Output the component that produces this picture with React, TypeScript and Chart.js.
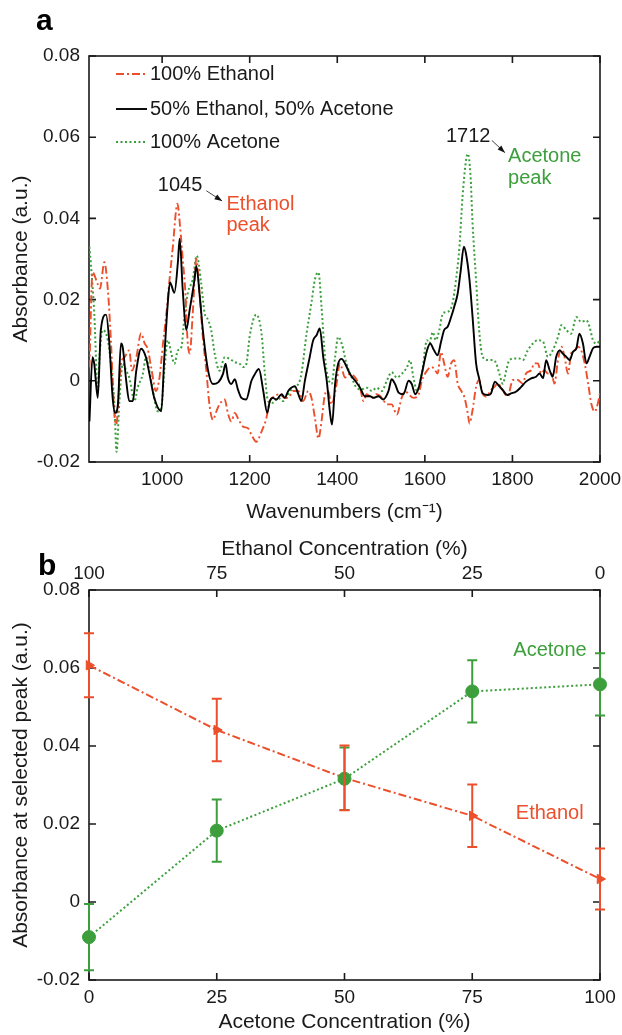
import { useEffect, useRef } from 'react';
import { Chart, registerables } from 'chart.js';

Chart.register(...registerables);

const RED = '#ec4f2b';
const GREEN = '#3c9f3c';
const INK = '#1a1a1a';
const FONT = "'Liberation Sans', Arial, Helvetica, sans-serif";

// ---------- panel a: FTIR spectra ----------
const ethanolWn = [834, 841, 853, 858, 868, 876, 883, 891, 895, 906, 914, 925, 931, 941, 952, 960, 967, 975, 986, 994, 1002, 1009, 1017, 1024, 1035, 1041, 1047, 1053, 1058, 1063, 1070, 1078, 1086, 1093, 1101, 1108, 1116, 1124, 1131, 1143, 1150, 1158, 1166, 1173, 1185, 1196, 1204, 1215, 1227, 1238, 1246, 1257, 1269, 1280, 1288, 1299, 1311, 1322, 1334, 1341, 1349, 1357, 1364, 1372, 1379, 1387, 1397, 1406, 1418, 1429, 1441, 1452, 1460, 1467, 1479, 1490, 1502, 1513, 1524, 1536, 1547, 1555, 1563, 1574, 1586, 1593, 1605, 1614, 1621, 1629, 1637, 1644, 1652, 1660, 1667, 1675, 1682, 1690, 1698, 1702, 1709, 1717, 1724, 1732, 1740, 1751, 1759, 1766, 1774, 1782, 1789, 1801, 1812, 1824, 1831, 1843, 1850, 1858, 1866, 1873, 1881, 1889, 1896, 1904, 1912, 1919, 1927, 1934, 1942, 1950, 1957, 1965, 1973, 1980, 1988, 1995, 2000];
const ethanolAbs = [0.0033, 0.0267, 0.0238, 0.0227, 0.0292, 0.0225, 0.0100, -0.0083, -0.0108, 0.0042, 0.0058, 0.0075, 0.0025, 0.0058, 0.0117, 0.0092, 0.0079, 0.0033, -0.0025, 0.0008, 0.0092, 0.0158, 0.0250, 0.0325, 0.0436, 0.0380, 0.0300, 0.0220, 0.0100, 0.0067, 0.0167, 0.0300, 0.0208, 0.0108, 0.0025, -0.0058, -0.0096, -0.0075, -0.0058, -0.0046, -0.0079, -0.0100, -0.0079, -0.0092, -0.0113, -0.0117, -0.0133, -0.0150, -0.0125, -0.0092, -0.0050, -0.0038, -0.0033, -0.0042, -0.0042, -0.0025, -0.0025, -0.0050, -0.0025, -0.0042, -0.0092, -0.0142, -0.0100, -0.0033, -0.0025, -0.0058, -0.0017, 0.0042, 0.0008, 0.0017, 0.0008, -0.0017, -0.0050, -0.0033, -0.0042, -0.0033, -0.0042, -0.0058, -0.0058, -0.0083, -0.0042, -0.0025, -0.0033, -0.0042, -0.0033, 0.0000, 0.0025, 0.0034, 0.0030, 0.0018, 0.0071, 0.0043, 0.0010, 0.0043, 0.0051, -0.0007, -0.0023, -0.0039, -0.0080, -0.0105, -0.0072, -0.0015, 0.0002, -0.0031, -0.0039, -0.0023, -0.0015, -0.0007, -0.0015, -0.0031, -0.0039, 0.0002, 0.0002, -0.0007, 0.0018, 0.0026, 0.0043, 0.0043, 0.0018, 0.0026, 0.0018, 0.0018, -0.0007, 0.0051, 0.0084, 0.0059, 0.0018, 0.0067, 0.0075, 0.0084, 0.0075, 0.0043, -0.0007, -0.0056, -0.0076, -0.0056, -0.0030];

const mixtureWn = [834, 841, 845, 853, 860, 872, 879, 887, 893, 899, 906, 910, 918, 925, 933, 941, 952, 963, 971, 982, 998, 1005, 1013, 1018, 1028, 1036, 1040, 1047, 1055, 1063, 1074, 1078, 1086, 1093, 1105, 1116, 1128, 1139, 1145, 1150, 1158, 1166, 1173, 1181, 1192, 1204, 1212, 1221, 1231, 1240, 1246, 1253, 1261, 1273, 1280, 1288, 1295, 1303, 1311, 1318, 1326, 1337, 1345, 1353, 1360, 1368, 1376, 1383, 1388, 1395, 1402, 1410, 1418, 1429, 1441, 1452, 1463, 1475, 1482, 1494, 1505, 1517, 1524, 1532, 1540, 1551, 1563, 1570, 1578, 1586, 1593, 1605, 1612, 1621, 1629, 1637, 1644, 1652, 1660, 1667, 1675, 1682, 1689, 1694, 1702, 1709, 1717, 1724, 1732, 1744, 1751, 1760, 1768, 1778, 1788, 1797, 1808, 1820, 1831, 1843, 1854, 1862, 1870, 1877, 1885, 1892, 1900, 1908, 1915, 1923, 1931, 1938, 1946, 1953, 1961, 1969, 1976, 1984, 1992, 2000];
const mixtureAbs = [-0.0100, 0.0058, 0.0042, -0.0042, 0.0125, 0.0163, 0.0100, -0.0042, -0.0079, -0.0058, 0.0092, 0.0083, 0.0000, -0.0050, -0.0050, 0.0025, 0.0079, 0.0058, 0.0017, -0.0042, -0.0075, 0.0058, 0.0192, 0.0242, 0.0217, 0.0292, 0.0350, 0.0225, 0.0125, 0.0175, 0.0250, 0.0283, 0.0208, 0.0125, 0.0025, -0.0008, -0.0004, 0.0017, 0.0042, 0.0008, -0.0008, 0.0004, -0.0021, -0.0042, -0.0046, 0.0000, 0.0017, 0.0029, -0.0025, -0.0079, -0.0050, -0.0042, -0.0046, -0.0033, -0.0042, -0.0025, -0.0017, -0.0013, -0.0033, -0.0050, 0.0000, 0.0058, 0.0100, 0.0113, 0.0129, 0.0058, 0.0000, -0.0075, -0.0108, -0.0008, 0.0042, 0.0054, 0.0042, 0.0017, 0.0000, -0.0017, -0.0038, -0.0038, -0.0042, -0.0038, -0.0046, -0.0025, 0.0004, -0.0008, -0.0029, -0.0033, 0.0000, -0.0008, -0.0033, -0.0017, 0.0017, 0.0075, 0.0092, 0.0075, 0.0063, 0.0096, 0.0125, 0.0133, 0.0157, 0.0182, 0.0215, 0.0272, 0.0330, 0.0313, 0.0248, 0.0157, 0.0043, 0.0006, -0.0031, -0.0035, -0.0031, -0.0002, -0.0011, -0.0023, -0.0035, -0.0031, -0.0027, -0.0015, -0.0002, 0.0006, 0.0010, 0.0018, 0.0006, 0.0051, 0.0026, 0.0010, 0.0059, 0.0075, 0.0067, 0.0059, 0.0051, 0.0071, 0.0080, 0.0116, 0.0092, 0.0043, 0.0059, 0.0080, 0.0084, 0.0084];

const acetoneWn = [834, 837, 845, 853, 857, 864, 876, 883, 891, 896, 902, 910, 918, 925, 937, 944, 956, 963, 971, 979, 990, 998, 1005, 1013, 1021, 1028, 1036, 1044, 1051, 1059, 1070, 1079, 1089, 1097, 1105, 1112, 1120, 1131, 1143, 1154, 1166, 1177, 1185, 1192, 1200, 1215, 1227, 1234, 1242, 1253, 1265, 1276, 1288, 1299, 1311, 1318, 1330, 1341, 1349, 1357, 1364, 1372, 1379, 1387, 1395, 1402, 1410, 1421, 1433, 1444, 1456, 1467, 1479, 1490, 1502, 1513, 1524, 1536, 1547, 1559, 1566, 1574, 1582, 1593, 1605, 1610, 1618, 1625, 1633, 1641, 1652, 1663, 1671, 1679, 1686, 1694, 1698, 1704, 1709, 1717, 1724, 1732, 1744, 1755, 1763, 1770, 1778, 1786, 1793, 1805, 1816, 1824, 1835, 1847, 1858, 1870, 1881, 1892, 1904, 1912, 1923, 1934, 1946, 1957, 1969, 1976, 1984, 1992, 2000];
const acetoneAbs = [0.0330, 0.0292, 0.0167, -0.0025, 0.0058, 0.0125, 0.0100, 0.0042, -0.0058, -0.0175, -0.0058, 0.0042, 0.0025, 0.0008, -0.0050, -0.0017, 0.0017, 0.0058, 0.0025, -0.0025, -0.0075, -0.0067, 0.0025, 0.0100, 0.0067, 0.0042, 0.0075, 0.0083, 0.0158, 0.0217, 0.0250, 0.0308, 0.0242, 0.0167, 0.0150, 0.0125, 0.0067, 0.0025, 0.0058, 0.0054, 0.0046, 0.0042, 0.0034, 0.0040, 0.0110, 0.0163, 0.0117, 0.0025, -0.0050, -0.0054, -0.0042, -0.0050, -0.0033, -0.0017, -0.0008, 0.0017, 0.0117, 0.0192, 0.0250, 0.0267, 0.0183, 0.0058, 0.0008, -0.0008, 0.0058, 0.0108, 0.0092, 0.0042, 0.0008, -0.0017, -0.0021, -0.0017, -0.0025, -0.0017, -0.0025, 0.0000, 0.0021, 0.0008, 0.0017, 0.0033, 0.0050, 0.0008, -0.0025, 0.0017, 0.0100, 0.0092, 0.0120, 0.0100, 0.0125, 0.0166, 0.0170, 0.0190, 0.0248, 0.0330, 0.0452, 0.0543, 0.0559, 0.0510, 0.0387, 0.0248, 0.0125, 0.0059, 0.0051, 0.0051, 0.0043, 0.0018, -0.0007, 0.0026, 0.0051, 0.0055, 0.0055, 0.0051, 0.0075, 0.0092, 0.0100, 0.0096, 0.0059, 0.0075, 0.0108, 0.0137, 0.0125, 0.0116, 0.0157, 0.0145, 0.0149, 0.0133, 0.0100, 0.0092, 0.0100];

const wnTicks = [1000, 1200, 1400, 1600, 1800, 2000];
const absTicks = [-0.02, 0, 0.02, 0.04, 0.06, 0.08];
const legendLabelsA = ['100% Ethanol', '50% Ethanol, 50% Acetone', '100% Acetone'];

// ---------- panel b: peak absorbance vs concentration ----------
const acetoneConc = [0, 25, 50, 75, 100];
const ethanolConcTicks = [100, 75, 50, 25, 0];
const acetonePeak = [-0.009, 0.0183, 0.0316, 0.054, 0.0558];
const acetonePeakErr = [0.0085, 0.008, 0.008, 0.008, 0.008];
const ethanolPeak = [0.0607, 0.0441, 0.0318, 0.0221, 0.0059];
const ethanolPeakErr = [0.0082, 0.008, 0.0083, 0.008, 0.0078];

const fmtAbs = (v: number) => (Math.abs(v) < 1e-9 ? '0' : v.toFixed(2));
const toPts = (xs: number[], ys: number[]) => xs.map((x, i) => ({ x, y: ys[i] }));

const boxPlugin = {
  id: 'box',
  beforeDatasetsDraw(chart: any) {
    const { ctx, chartArea: a } = chart;
    const xs = chart.scales.x;
    const ys = chart.scales.y;
    ctx.save();
    ctx.strokeStyle = INK;
    ctx.lineWidth = 1.6;
    ctx.setLineDash([]);
    ctx.strokeRect(a.left, a.top, a.right - a.left, a.bottom - a.top);
    const L = 7;
    ctx.beginPath();
    xs.ticks.forEach((t: any) => {
      const px = xs.getPixelForValue(t.value);
      ctx.moveTo(px, a.bottom);
      ctx.lineTo(px, a.bottom - L);
      ctx.moveTo(px, a.top);
      ctx.lineTo(px, a.top + L);
    });
    ys.ticks.forEach((t: any) => {
      const py = ys.getPixelForValue(t.value);
      ctx.moveTo(a.left, py);
      ctx.lineTo(a.left + L, py);
      ctx.moveTo(a.right, py);
      ctx.lineTo(a.right - L, py);
    });
    ctx.stroke();
    ctx.restore();
  },
};

function panelLabel(text: string, x: number, y: number) {
  return {
    id: 'panel_' + text,
    afterDraw(chart: any) {
      const ctx = chart.ctx;
      ctx.save();
      ctx.fillStyle = '#000';
      ctx.font = `bold 30px ${FONT}`;
      ctx.textBaseline = 'alphabetic';
      ctx.fillText(text, x, y);
      ctx.restore();
    },
  };
}

function arrow(ctx: any, x1: number, y1: number, x2: number, y2: number) {
  ctx.save();
  ctx.strokeStyle = '#444';
  ctx.fillStyle = '#111';
  ctx.lineWidth = 1;
  ctx.beginPath();
  ctx.moveTo(x1, y1);
  ctx.lineTo(x2, y2);
  ctx.stroke();
  const ang = Math.atan2(y2 - y1, x2 - x1);
  const h = 8;
  ctx.beginPath();
  ctx.moveTo(x2, y2);
  ctx.lineTo(x2 - h * Math.cos(ang - 0.35), y2 - h * Math.sin(ang - 0.35));
  ctx.lineTo(x2 - h * Math.cos(ang + 0.35), y2 - h * Math.sin(ang + 0.35));
  ctx.closePath();
  ctx.fill();
  ctx.restore();
}

const legendAPlugin = {
  id: 'legendA',
  afterDraw(chart: any) {
    const { ctx, chartArea: a } = chart;
    const styles = [
      { color: RED, dash: [8, 3, 2, 3], dy: 18 },
      { color: '#000', dash: [], dy: 53 },
      { color: GREEN, dash: [2, 2.5], dy: 86 },
    ];
    ctx.save();
    legendLabelsA.forEach((label, i) => {
      const s = styles[i];
      const y = a.top + s.dy;
      ctx.strokeStyle = s.color;
      ctx.lineWidth = 1.9;
      ctx.setLineDash(s.dash);
      ctx.beginPath();
      ctx.moveTo(a.left + 27, y);
      ctx.lineTo(a.left + 58, y);
      ctx.stroke();
      ctx.setLineDash([]);
      ctx.fillStyle = INK;
      ctx.font = `20px ${FONT}`;
      ctx.textBaseline = 'middle';
      ctx.textAlign = 'left';
      ctx.fillText(label, a.left + 61, y);
    });
    ctx.restore();
  },
};

const annotAPlugin = {
  id: 'annotA',
  afterDraw(chart: any) {
    const { ctx } = chart;
    const xs = chart.scales.x;
    const ys = chart.scales.y;
    const X = (v: number) => xs.getPixelForValue(v);
    const Y = (v: number) => ys.getPixelForValue(v);
    ctx.save();
    ctx.font = `20px ${FONT}`;
    ctx.textBaseline = 'middle';
    ctx.textAlign = 'center';
    ctx.fillStyle = INK;
    ctx.fillText('1045', X(1041), Y(0.048));
    ctx.fillText('1712', X(1699), Y(0.0602));
    arrow(ctx, X(1101), Y(0.0468), X(1137), Y(0.0443));
    arrow(ctx, X(1753), Y(0.0592), X(1783), Y(0.0562));
    ctx.textAlign = 'left';
    ctx.fillStyle = RED;
    ctx.fillText('Ethanol', X(1147), Y(0.0435));
    ctx.fillText('peak', X(1147), Y(0.0382));
    ctx.fillStyle = GREEN;
    ctx.fillText('Acetone', X(1790), Y(0.0553));
    ctx.fillText('peak', X(1790), Y(0.0498));
    ctx.restore();
  },
};

const errorBarPlugin = {
  id: 'errorBars',
  afterDatasetsDraw(chart: any) {
    const { ctx } = chart;
    const xs = chart.scales.x;
    const ys = chart.scales.y;
    const series = [
      { mean: acetonePeak, err: acetonePeakErr, color: GREEN },
      { mean: ethanolPeak, err: ethanolPeakErr, color: RED },
    ];
    ctx.save();
    ctx.lineWidth = 2;
    ctx.setLineDash([]);
    series.forEach((s) => {
      ctx.strokeStyle = s.color;
      acetoneConc.forEach((c, i) => {
        const px = xs.getPixelForValue(c);
        const top = ys.getPixelForValue(s.mean[i] + s.err[i]);
        const bot = ys.getPixelForValue(s.mean[i] - s.err[i]);
        ctx.beginPath();
        ctx.moveTo(px, top);
        ctx.lineTo(px, bot);
        ctx.moveTo(px - 5, top);
        ctx.lineTo(px + 5, top);
        ctx.moveTo(px - 5, bot);
        ctx.lineTo(px + 5, bot);
        ctx.stroke();
      });
    });
    ctx.restore();
  },
};

const annotBPlugin = {
  id: 'annotB',
  afterDraw(chart: any) {
    const { ctx } = chart;
    const xs = chart.scales.x;
    const ys = chart.scales.y;
    ctx.save();
    ctx.font = `20px ${FONT}`;
    ctx.textBaseline = 'middle';
    ctx.textAlign = 'right';
    ctx.fillStyle = GREEN;
    ctx.fillText('Acetone', xs.getPixelForValue(97.4), ys.getPixelForValue(0.0645));
    ctx.fillStyle = RED;
    ctx.fillText('Ethanol', xs.getPixelForValue(96.8), ys.getPixelForValue(0.0228));
    ctx.restore();
  },
};

const tickFont = { size: 19, family: FONT };
const titleFont = { size: 21, family: FONT };

const fitH = (h: number) => (s: any) => {
  s.height = h;
  s.paddingLeft = 0;
  s.paddingRight = 0;
};
const fitW = (w: number) => (s: any) => {
  s.width = w;
  s.paddingTop = 0;
  s.paddingBottom = 0;
};

export default function App() {
  const topRef = useRef<HTMLCanvasElement>(null);
  const botRef = useRef<HTMLCanvasElement>(null);

  useEffect(() => {
    Chart.defaults.font.family = FONT;
    Chart.defaults.color = INK;

    const chartA = new Chart(topRef.current as HTMLCanvasElement, {
      type: 'line',
      data: {
        datasets: [
          {
            label: legendLabelsA[1],
            data: toPts(mixtureWn, mixtureAbs),
            borderColor: '#000',
            borderWidth: 1.9,
            pointRadius: 0,
            cubicInterpolationMode: 'monotone',
          },
          {
            label: legendLabelsA[0],
            data: toPts(ethanolWn, ethanolAbs),
            borderColor: RED,
            borderWidth: 1.9,
            borderDash: [8, 3, 2, 3],
            pointRadius: 0,
            cubicInterpolationMode: 'monotone',
          },
          {
            label: legendLabelsA[2],
            data: toPts(acetoneWn, acetoneAbs),
            borderColor: GREEN,
            borderWidth: 2,
            borderDash: [2, 2.5],
            pointRadius: 0,
            cubicInterpolationMode: 'monotone',
          },
        ],
      },
      options: {
        animation: false,
        responsive: false,
        maintainAspectRatio: false,
        layout: { padding: { top: 56, right: 22, left: 0, bottom: 0 } },
        plugins: { legend: { display: false }, tooltip: { enabled: false } },
        scales: {
          x: {
            type: 'linear',
            min: 833,
            max: 2000,
            afterBuildTicks: (s: any) => {
              s.ticks = wnTicks.map((v) => ({ value: v }));
            },
            afterFit: fitH(73),
            grid: { display: false, drawTicks: false },
            border: { display: false },
            ticks: { font: tickFont, color: INK, padding: 6, maxRotation: 0, autoSkip: false, callback: (v: any) => String(v) },
            title: { display: true, text: 'Wavenumbers (cm⁻¹)', font: titleFont, color: INK, padding: { top: 0, bottom: 10 } },
          },
          y: {
            type: 'linear',
            min: -0.02,
            max: 0.08,
            afterBuildTicks: (s: any) => {
              s.ticks = absTicks.map((v) => ({ value: v }));
            },
            afterFit: fitW(89),
            grid: { display: false, drawTicks: false },
            border: { display: false },
            ticks: { font: tickFont, color: INK, padding: 9, autoSkip: false, callback: (v: any) => fmtAbs(Number(v)) },
            title: { display: true, text: 'Absorbance (a.u.)', font: titleFont, color: INK, padding: { top: 9, bottom: 0 } },
          },
        },
      } as any,
      plugins: [boxPlugin, legendAPlugin, annotAPlugin, panelLabel('a', 36, 30)],
    });

    const chartB = new Chart(botRef.current as HTMLCanvasElement, {
      type: 'line',
      data: {
        datasets: [
          {
            label: 'Acetone',
            data: toPts(acetoneConc, acetonePeak),
            borderColor: GREEN,
            backgroundColor: GREEN,
            borderWidth: 2,
            borderDash: [2, 2.5],
            pointStyle: 'circle',
            pointRadius: 6.5,
            pointBorderWidth: 1,
            pointBackgroundColor: GREEN,
            pointBorderColor: GREEN,
            clip: false,
          },
          {
            label: 'Ethanol',
            data: toPts(acetoneConc, ethanolPeak),
            borderColor: RED,
            backgroundColor: RED,
            borderWidth: 2,
            borderDash: [8, 3, 2, 3],
            pointStyle: 'triangle',
            pointRotation: 90,
            pointRadius: 5.5,
            pointBorderWidth: 1,
            pointBackgroundColor: RED,
            pointBorderColor: RED,
            clip: false,
          },
        ],
      },
      options: {
        animation: false,
        responsive: false,
        maintainAspectRatio: false,
        layout: { padding: { top: 0, right: 22, left: 0, bottom: 0 } },
        plugins: { legend: { display: false }, tooltip: { enabled: false } },
        scales: {
          x: {
            type: 'linear',
            position: 'bottom',
            min: 0,
            max: 100,
            afterBuildTicks: (s: any) => {
              s.ticks = acetoneConc.map((v) => ({ value: v }));
            },
            afterFit: fitH(55),
            grid: { display: false, drawTicks: false },
            border: { display: false },
            ticks: { font: tickFont, color: INK, padding: 6, maxRotation: 0, autoSkip: false, callback: (v: any) => String(v) },
            title: { display: true, text: 'Acetone Concentration (%)', font: titleFont, color: INK, padding: { top: 0, bottom: 0 } },
          },
          x2: {
            type: 'linear',
            position: 'top',
            min: 0,
            max: 100,
            reverse: true,
            afterBuildTicks: (s: any) => {
              s.ticks = ethanolConcTicks.map((v) => ({ value: v }));
            },
            afterFit: fitH(55),
            grid: { display: false, drawTicks: false },
            border: { display: false },
            ticks: { font: tickFont, color: INK, padding: 5, maxRotation: 0, autoSkip: false, callback: (v: any) => String(v) },
            title: { display: true, text: 'Ethanol Concentration (%)', font: titleFont, color: INK, padding: { top: 2, bottom: 0 } },
          },
          y: {
            type: 'linear',
            min: -0.02,
            max: 0.08,
            afterBuildTicks: (s: any) => {
              s.ticks = absTicks.map((v) => ({ value: v }));
            },
            afterFit: fitW(89),
            grid: { display: false, drawTicks: false },
            border: { display: false },
            ticks: { font: tickFont, color: INK, padding: 9, autoSkip: false, callback: (v: any) => fmtAbs(Number(v)) },
            title: { display: true, text: 'Absorbance at selected peak (a.u.)', font: titleFont, color: INK, padding: { top: 9, bottom: 0 } },
          },
        },
      } as any,
      plugins: [boxPlugin, errorBarPlugin, annotBPlugin, panelLabel('b', 38, 40)],
    });

    return () => {
      chartA.destroy();
      chartB.destroy();
    };
  }, []);

  return (
    <div style={{ position: 'absolute', left: 0, top: 0, width: 622, height: 1035, background: '#fff', overflow: 'hidden' }}>
      <canvas ref={topRef} width={622} height={535} style={{ position: 'absolute', left: 0, top: 0 }} />
      <canvas ref={botRef} width={622} height={500} style={{ position: 'absolute', left: 0, top: 535 }} />
    </div>
  );
}
